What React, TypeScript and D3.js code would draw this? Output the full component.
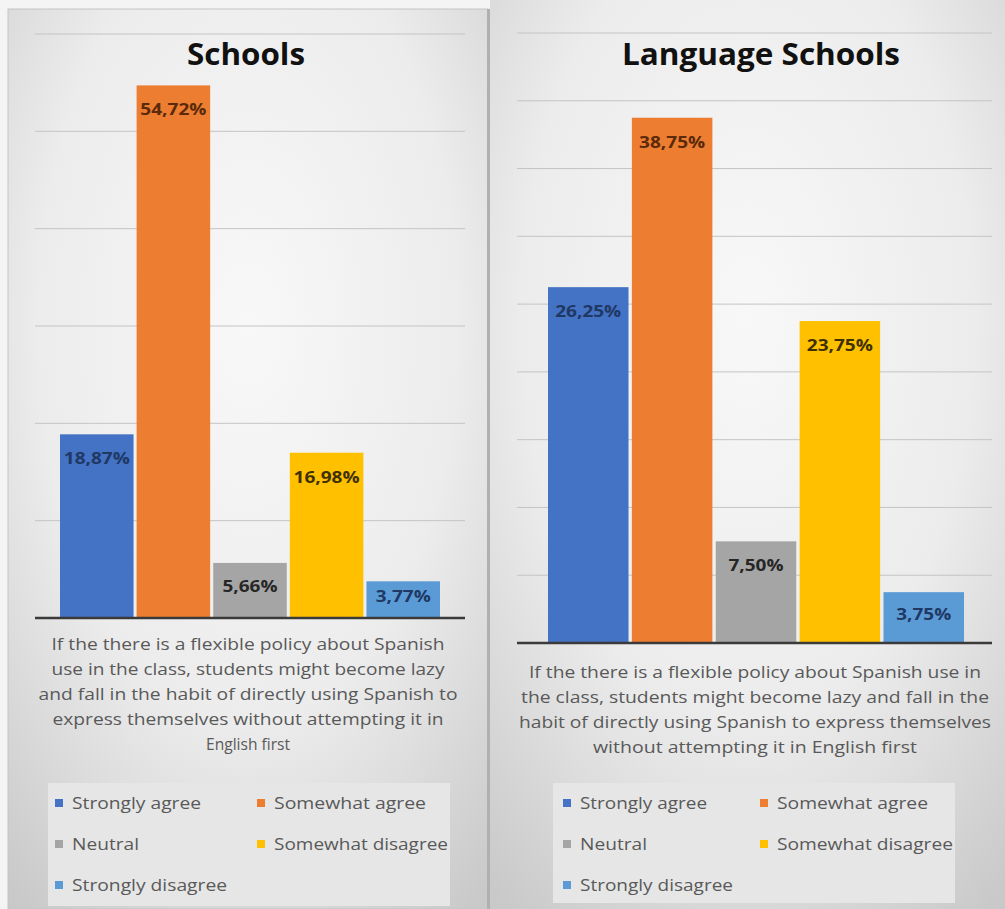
import React from 'react';
import * as d3 from 'd3';

const categories = ['Strongly agree', 'Somewhat agree', 'Neutral', 'Somewhat disagree', 'Strongly disagree'];
const barColors = ['#4472C4', '#ED7D31', '#A5A5A5', '#FFC000', '#5B9BD5'];
const labelColors = ['#1F3864', '#5A2A0A', '#262626', '#3F3000', '#1F3864'];

const schoolsValues = [18.87, 54.72, 5.66, 16.98, 3.77];
const languageValues = [26.25, 38.75, 7.5, 23.75, 3.75];

const schoolsTicks = [0, 10, 20, 30, 40, 50, 60];
const languageTicks = [0, 5, 10, 15, 20, 25, 30, 35, 40, 45];

const schoolsCaption = [
  'If the there is a flexible policy about Spanish',
  'use in the class, students might become lazy',
  'and fall in the habit of directly using Spanish to',
  'express themselves without attempting it in',
  'English first',
];
const languageCaption = [
  'If the there is a flexible policy about Spanish use in',
  'the class, students might become lazy and fall in the',
  'habit of directly using Spanish to express themselves',
  'without attempting it in English first',
];

const fmt = (v: number) => v.toFixed(2).replace('.', ',') + '%';

type PanelCfg = {
  id: string;
  title: string;
  titleX: number;
  titleW: number;
  values: number[];
  ticks: number[];
  plotX: [number, number];
  barX: [number, number];
  yRange: [number, number];
  caption: string[];
  captionX: number;
  captionY: number;
  captionW: number[];
  legendBox: [number, number, number, number];
  legendCols: [number, number];
  legendW: number[];
};

const panels: PanelCfg[] = [
  {
    id: 'a',
    title: 'Schools',
    titleX: 246,
    titleW: 118,
    values: schoolsValues,
    ticks: schoolsTicks,
    plotX: [35, 465],
    barX: [60, 440],
    yRange: [618, 34],
    caption: schoolsCaption,
    captionX: 248,
    captionY: 644,
    captionW: [393, 393, 419, 391, 84],
    legendBox: [48, 783, 402, 123],
    legendCols: [55, 257],
    legendW: [129, 152, 67, 174, 155],
  },
  {
    id: 'b',
    title: 'Language Schools',
    titleX: 761,
    titleW: 278,
    values: languageValues,
    ticks: languageTicks,
    plotX: [517, 992],
    barX: [548, 964],
    yRange: [643, 33],
    caption: languageCaption,
    captionX: 755,
    captionY: 672,
    captionW: [452, 468, 472, 324],
    legendBox: [553, 783, 402, 120],
    legendCols: [563, 760],
    legendW: [127, 151, 67, 176, 153],
  },
];

function Panel({ p }: { p: PanelCfg }) {
  const x = d3.scaleBand<string>().domain(categories).range(p.barX).paddingInner(0.04).paddingOuter(0);
  const y = d3.scaleLinear().domain([0, p.ticks[p.ticks.length - 1]]).range(p.yRange);
  const base = y(0);
  const rows = [803, 844, 885];
  return (
    <g>
      {p.ticks.slice(1).map((t) => (
        <line key={t} x1={p.plotX[0]} x2={p.plotX[1]} y1={y(t)} y2={y(t)} stroke="#c4c4c4" strokeWidth={1} />
      ))}
      <text
        x={p.titleX}
        y={65}
        textAnchor="middle"
        fontFamily="'Open Sans', sans-serif"
        fontWeight={700}
        fontSize={31}
        fill="#111"
        textLength={p.titleW}
        lengthAdjust="spacingAndGlyphs"
      >
        {p.title}
      </text>
      {categories.map((c, i) => {
        const v = p.values[i];
        const top = y(v);
        const h = base - top;
        const cx = (x(c) as number) + x.bandwidth() / 2;
        const lab = fmt(v);
        const ly = top + Math.min(24, h / 2 - 4) + 6;
        return (
          <g key={c}>
            <rect x={x(c)} y={top} width={x.bandwidth()} height={h} fill={barColors[i]} />
            <text
              x={cx}
              y={ly}
              textAnchor="middle"
              fontFamily="'Open Sans', sans-serif"
              fontWeight={700}
              fontSize={16}
              fill={labelColors[i]}
              textLength={lab.length * 11}
              lengthAdjust="spacingAndGlyphs"
            >
              {lab}
            </text>
          </g>
        );
      })}
      <line x1={p.plotX[0]} x2={p.plotX[1]} y1={base} y2={base} stroke="#3a3a3a" strokeWidth={2.5} />
      {p.caption.map((line, i) => (
        <text
          key={i}
          x={p.captionX}
          y={p.captionY + i * 25 + 6}
          textAnchor="middle"
          fontFamily="'Open Sans', sans-serif"
          fontSize={16}
          fill="#595959"
          textLength={p.captionW[i]}
          lengthAdjust="spacingAndGlyphs"
        >
          {line}
        </text>
      ))}
      <rect x={p.legendBox[0]} y={p.legendBox[1]} width={p.legendBox[2]} height={p.legendBox[3]} fill="#e6e6e6" />
      {categories.map((c, i) => {
        const col = i % 2;
        const row = Math.floor(i / 2);
        const mx = p.legendCols[col];
        const ry = rows[row];
        return (
          <g key={c}>
            <rect x={mx} y={ry - 4} width={8} height={8} fill={barColors[i]} />
            <text
              x={mx + 17}
              y={ry + 6}
              fontFamily="'Open Sans', sans-serif"
              fontSize={17}
              fill="#595959"
              textLength={p.legendW[i]}
              lengthAdjust="spacingAndGlyphs"
            >
              {c}
            </text>
          </g>
        );
      })}
    </g>
  );
}

export default function App() {
  return (
    <svg
      width={1005}
      height={909}
      viewBox="0 0 1005 909"
      style={{ position: 'absolute', left: 0, top: 0, display: 'block' }}
    >
      <defs>
        <radialGradient id="bgL" cx="0.5" cy="0.35" r="0.8">
          <stop offset="0" stopColor="#f8f8f8" />
          <stop offset="0.55" stopColor="#ececec" />
          <stop offset="1" stopColor="#c9c9c9" />
        </radialGradient>
        <radialGradient id="bgR" cx="0.5" cy="0.35" r="0.8">
          <stop offset="0" stopColor="#f8f8f8" />
          <stop offset="0.55" stopColor="#ececec" />
          <stop offset="1" stopColor="#c9c9c9" />
        </radialGradient>
      </defs>
      <rect x={0} y={0} width={1005} height={909} fill="#f4f4f4" />
      <rect x={8} y={9} width={480} height={900} fill="url(#bgL)" stroke="#c4c4c4" strokeWidth={1} />
      <rect x={490} y={0} width={515} height={909} fill="url(#bgR)" />
      <rect x={487} y={9} width={3} height={900} fill="#b0b0b0" />
      {panels.map((p) => (
        <Panel key={p.id} p={p} />
      ))}
    </svg>
  );
}
